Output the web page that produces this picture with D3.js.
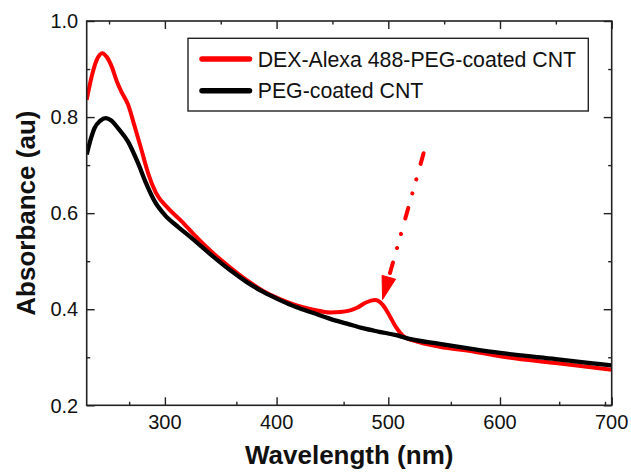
<!DOCTYPE html>
<html>
<head>
<meta charset="utf-8">
<script src="https://cdn.jsdelivr.net/npm/d3@7"></script>
<style>
  html, body { margin: 0; padding: 0; background: #fff; }
  svg { display: block; }
  text { font-family: "Liberation Sans", Arial, sans-serif; fill: #111; }
</style>
</head>
<body>
<svg id="chart" width="631" height="472"></svg>
<script>
// ---- data ----
const seriesNames = ["DEX-Alexa 488-PEG-coated CNT", "PEG-coated CNT"];
const seriesColors = ["#ff0000", "#000000"];

const redWavelength = [230, 234.5, 239, 244, 248, 252.4, 257, 261, 267, 273, 279, 285, 292, 303, 315, 327, 343, 358, 373, 388, 403, 418, 433, 448, 457, 465, 472, 480, 488, 495, 501, 507, 513, 525, 546, 576, 600, 650, 700];
const redAbsorbance = [0.836, 0.885, 0.919, 0.933, 0.925, 0.905, 0.874, 0.853, 0.826, 0.780, 0.732, 0.683, 0.642, 0.610, 0.583, 0.553, 0.517, 0.488, 0.461, 0.438, 0.421, 0.408, 0.399, 0.393, 0.394, 0.397, 0.403, 0.414, 0.419, 0.409, 0.387, 0.362, 0.345, 0.333, 0.322, 0.312, 0.302, 0.288, 0.274];

const blackWavelength = [230, 234, 237, 242, 247, 252, 258, 267, 276, 283, 291, 300, 312, 324, 343, 358, 373, 388, 403, 418, 433, 448, 463, 478, 492, 507, 516, 546, 576, 600, 650, 700];
const blackAbsorbance = [0.722, 0.757, 0.777, 0.792, 0.798, 0.793, 0.777, 0.749, 0.704, 0.663, 0.624, 0.596, 0.571, 0.548, 0.510, 0.482, 0.457, 0.436, 0.419, 0.404, 0.392, 0.380, 0.370, 0.360, 0.353, 0.346, 0.340, 0.328, 0.317, 0.309, 0.296, 0.283];

const xDomain = [230, 700];
const yDomain = [0.2, 1.0];
const xMajorTicks = [300, 400, 500, 600, 700];
const xMinorTicksBottom = [268, 364, 460, 556, 653, 694];
const xMinorTicksTop = [250, 350, 450, 550, 650];
const yMajorTicks = [0.2, 0.4, 0.6, 0.8, 1.0];
const yMinorTicks = [0.3, 0.5, 0.7, 0.9];
const xTitle = "Wavelength (nm)";
const yTitle = "Absorbance (au)";
// annotation arrow: [wavelength, absorbance] start and tip
const arrowStart = [531.6, 0.7246];
const arrowTip = [494.9, 0.4204];

// ---- layout ----
const W = 631, H = 472;
const m = { left: 86.7, right: 19.3, top: 21, bottom: 66.7 };
const pw = W - m.left - m.right, ph = H - m.top - m.bottom;

const svg = d3.select("#chart");
const x = d3.scaleLinear().domain(xDomain).range([m.left, m.left + pw]);
const y = d3.scaleLinear().domain(yDomain).range([m.top + ph, m.top]);

const axisColor = "#222";

// curves
const line = d3.line().x(d => x(d[0])).y(d => y(d[1])).curve(d3.curveMonotoneX);
const clip = svg.append("clipPath").attr("id", "clip").append("rect")
  .attr("x", m.left).attr("y", m.top).attr("width", pw).attr("height", ph);

const redData = redWavelength.map((w, i) => [w, redAbsorbance[i]]);
const blackData = blackWavelength.map((w, i) => [w, blackAbsorbance[i]]);

const g = svg.append("g").attr("clip-path", "url(#clip)");
g.append("path").datum(redData).attr("d", line)
  .attr("fill", "none").attr("stroke", seriesColors[0]).attr("stroke-width", 4).attr("stroke-linejoin", "round");
g.append("path").datum(blackData).attr("d", line)
  .attr("fill", "none").attr("stroke", seriesColors[1]).attr("stroke-width", 4.3).attr("stroke-linejoin", "round");

// axes (ticks inward)
function styleAxis(sel) {
  sel.select(".domain").remove();
  sel.selectAll(".tick line").attr("stroke", axisColor).attr("stroke-width", 1.4);
}
// bottom
svg.append("g").attr("transform", `translate(0,${m.top + ph})`)
  .call(d3.axisBottom(x).tickValues(xMajorTicks).tickSize(-8).tickFormat(""))
  .call(styleAxis);
svg.append("g").attr("transform", `translate(0,${m.top + ph})`)
  .call(d3.axisBottom(x).tickValues(xMinorTicksBottom).tickSize(-3.5).tickFormat(""))
  .call(styleAxis);
// top
svg.append("g").attr("transform", `translate(0,${m.top})`)
  .call(d3.axisTop(x).tickValues(xMajorTicks).tickSize(-8).tickFormat(""))
  .call(styleAxis);
svg.append("g").attr("transform", `translate(0,${m.top})`)
  .call(d3.axisTop(x).tickValues(xMinorTicksTop).tickSize(-3.5).tickFormat(""))
  .call(styleAxis);
// left
svg.append("g").attr("transform", `translate(${m.left},0)`)
  .call(d3.axisLeft(y).tickValues(yMajorTicks).tickSize(-8).tickFormat(""))
  .call(styleAxis);
svg.append("g").attr("transform", `translate(${m.left},0)`)
  .call(d3.axisLeft(y).tickValues(yMinorTicks).tickSize(-3.5).tickFormat(""))
  .call(styleAxis);
// right
svg.append("g").attr("transform", `translate(${m.left + pw},0)`)
  .call(d3.axisRight(y).tickValues(yMajorTicks).tickSize(-8).tickFormat(""))
  .call(styleAxis);
svg.append("g").attr("transform", `translate(${m.left + pw},0)`)
  .call(d3.axisRight(y).tickValues(yMinorTicks).tickSize(-3.5).tickFormat(""))
  .call(styleAxis);

// frame
svg.append("rect").attr("x", m.left).attr("y", m.top).attr("width", pw).attr("height", ph)
  .attr("fill", "none").attr("stroke", axisColor).attr("stroke-width", 1.6);

// tick labels
svg.append("g").selectAll("text").data(xMajorTicks).join("text")
  .attr("x", d => x(d)).attr("y", m.top + ph + 24)
  .attr("text-anchor", "middle").attr("font-size", 20).text(d => d);
svg.append("g").selectAll("text").data(yMajorTicks).join("text")
  .attr("x", m.left - 8.5).attr("y", d => y(d) + 7.2)
  .attr("text-anchor", "end").attr("font-size", 20).text(d3.format(".1f"));

// axis titles
svg.append("text").attr("x", m.left + pw / 2).attr("y", 464)
  .attr("text-anchor", "middle").attr("font-size", 26).attr("font-weight", "bold").text(xTitle);
svg.append("text").attr("transform", `translate(35,${m.top + ph / 2}) rotate(-90)`)
  .attr("text-anchor", "middle").attr("font-size", 26).attr("font-weight", "bold").text(yTitle);

// legend
const lg = svg.append("g");
lg.append("rect").attr("x", 188).attr("y", 38.3).attr("width", 400.3).attr("height", 72.7)
  .attr("fill", "#fff").attr("stroke", axisColor).attr("stroke-width", 1.4);
seriesNames.forEach((name, i) => {
  const cy = 59 + i * 31.7;
  lg.append("line").attr("x1", 202).attr("x2", 249.5).attr("y1", cy).attr("y2", cy)
    .attr("stroke", seriesColors[i]).attr("stroke-width", 5.5).attr("stroke-linecap", "round");
  lg.append("text").attr("x", 257.7).attr("y", cy + 7.6).attr("font-size", 21.3).text(name);
});

// annotation arrow (dash-dot-dot)
const sx = x(arrowStart[0]), sy = y(arrowStart[1]);
const tx = x(arrowTip[0]), ty = y(arrowTip[1]);
const dx = tx - sx, dy = ty - sy, len = Math.hypot(dx, dy);
const ux = dx / len, uy = dy / len;
const headLen = 23, headHalf = 7;
const bx = tx - ux * headLen, by = ty - uy * headLen;
svg.append("line").attr("x1", sx).attr("y1", sy).attr("x2", bx + ux * 2).attr("y2", by + uy * 2)
  .attr("stroke", "#ff0000").attr("stroke-width", 4).attr("stroke-linecap", "round")
  .attr("stroke-dasharray", "11,16,0.1,14.5,0.1,15");
svg.append("path")
  .attr("d", `M${tx},${ty} L${bx - uy * headHalf},${by + ux * headHalf} L${bx + uy * headHalf},${by - ux * headHalf} Z`)
  .attr("fill", "#ff0000").attr("stroke", "#ff0000").attr("stroke-width", 1).attr("stroke-linejoin", "round");
</script>
</body>
</html>
